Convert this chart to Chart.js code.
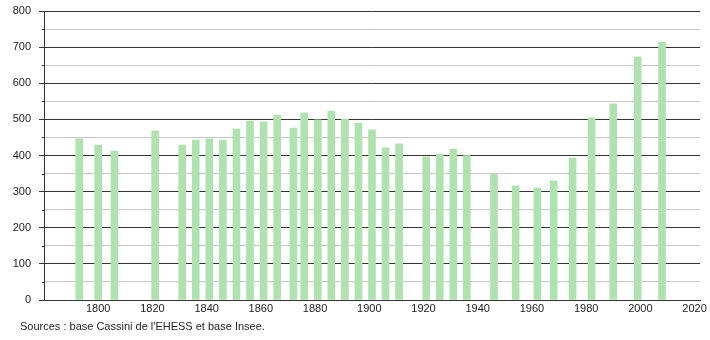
<!DOCTYPE html>
<html>
<head>
<meta charset="utf-8">
<script src="https://cdn.jsdelivr.net/npm/chart.js@4"></script>
<style>
  body { margin: 0; background: #fff; }
  #wrap { position: relative; width: 710px; height: 340px; }
  #caption { position: absolute; left: 20px; top: 320px; font: 11px "Liberation Sans", Arial, sans-serif; color: #222; }
</style>
</head>
<body>
<div id="wrap">
  <canvas id="myChart" width="710" height="340"></canvas>
  <div id="caption">Sources : base Cassini de l'EHESS et base Insee.</div>
</div>
<script>
const years = [1793, 1800, 1806, 1821, 1831, 1836, 1841, 1846, 1851, 1856, 1861, 1866, 1872, 1876,
  1881, 1886, 1891, 1896, 1901, 1906, 1911, 1921, 1926, 1931, 1936, 1946, 1954, 1962, 1968, 1975,
  1982, 1990, 1999, 2008]
const population = [446, 429, 412, 468, 429, 443, 446, 443, 473, 495, 493, 512, 476, 518,
  499, 523, 501, 490, 471, 421, 432, 396, 404, 418, 400, 349, 316, 310, 330, 393,
  504, 543, 673, 714]
const yearTicks = [1800, 1820, 1840, 1860, 1880, 1900, 1920, 1940, 1960, 1980, 2000, 2020]

// petits traits sur l'axe y (50 en 50)
const minorTicks = {
  id: 'minorTicks',
  afterDraw(chart){
    const y = chart.scales.y
    const ctx = chart.ctx
    ctx.save()
    ctx.strokeStyle = '#333'
    ctx.lineWidth = 1
    for(let v = 50; v < 800; v += 100){
      const py = Math.round(y.getPixelForValue(v)) + 0.5
      ctx.beginPath()
      ctx.moveTo(y.right - 2, py)
      ctx.lineTo(y.right, py)
      ctx.stroke()
    }
    ctx.restore()
  }
}

const ctx = document.getElementById('myChart')
new Chart(ctx, {
  type: 'bar',
  data: {
    datasets: [{
      data: years.map((yr, i) => ({ x: yr, y: population[i] })),
      backgroundColor: 'rgb(176,226,176)',
      borderWidth: 0,
      barThickness: 7
    }]
  },
  options: {
    responsive: false,
    animation: false,
    layout: { padding: { top: 11, right: 10, left: 0, bottom: 0 } },
    plugins: { legend: { display: false }, tooltip: { enabled: false } },
    scales: {
      x: {
        type: 'linear',
        offset: false,
        min: 1780,
        max: 2022,
        afterBuildTicks: scale => { scale.ticks = yearTicks.map(v => ({ value: v })) },
        afterFit: scale => { scale.height = 40 },
        grid: { display: false, drawTicks: false, offset: false },
        border: { color: '#333', width: 1 },
        ticks: {
          color: '#222',
          padding: 2,
          maxRotation: 0,
          font: { family: 'Liberation Sans', size: 11 },
          callback: v => String(v)
        }
      },
      y: {
        min: 0,
        max: 800,
        afterFit: scale => {
          scale.width = 44
          scale.paddingTop = 0
          scale.paddingBottom = 0
        },
        ticks: {
          stepSize: 50,
          color: '#222',
          padding: 8,
          font: { family: 'Liberation Sans', size: 11 },
          callback: v => v % 100 === 0 ? v : ''
        },
        grid: {
          color: c => c.tick.value % 100 === 0 ? '#333' : '#c8c8c8',
          tickColor: c => c.tick.value % 100 === 0 ? '#333' : 'rgba(0,0,0,0)',
          tickLength: 5,
          lineWidth: 1
        },
        border: { color: '#333', width: 1 }
      }
    }
  },
  plugins: [minorTicks]
})
</script>
</body>
</html>
